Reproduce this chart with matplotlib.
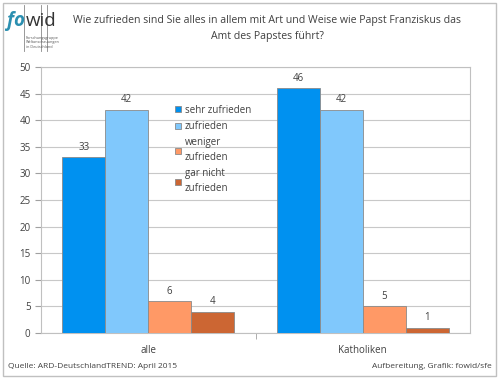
import numpy as np
import matplotlib.pyplot as plt
from matplotlib.patches import Rectangle

plt.rcParams['font.family'] = ['Open Sans', 'DejaVu Sans']

categories = ['alle', 'Katholiken']
series = ['sehr zufrieden', 'zufrieden', 'weniger\nzufrieden', 'gar nicht\nzufrieden']
values = [
    [33, 46],
    [42, 42],
    [6, 5],
    [4, 1],
]
colors = ['#0091f0', '#80c8fc', '#ff9966', '#cc6633']
title = 'Wie zufrieden sind Sie alles in allem mit Art und Weise wie Papst Franziskus das\nAmt des Papstes führt?'
source = 'Quelle: ARD-DeutschlandTREND: April 2015'
credit = 'Aufbereitung, Grafik: fowid/sfe'

txt = '#404040'
fig = plt.figure(figsize=(5, 3.79), dpi=100)
ax = fig.add_axes([0.082, 0.1214, 0.858, 0.7018])

x = np.arange(len(categories))
width = 0.2
grey = '#a0a0a0'
for i, (name, vals) in enumerate(zip(series, values)):
    pos = x + (i - 1.5) * width
    bars = ax.bar(pos, vals, width, color=colors[i], edgecolor='#8a8a8a',
                  linewidth=0.6, label=name, zorder=3)
    for b, v in zip(bars, vals):
        ax.text(b.get_x() + b.get_width() / 2, v + 0.8, str(v), ha='center',
                va='bottom', fontsize=7, color=txt)

ax.set_xlim(-0.5, 1.5)
ax.set_ylim(0, 50)
ax.set_yticks(range(0, 51, 5))
ax.set_xticks(x)
ax.set_xticklabels(categories)
ax.set_xticks([0.5], minor=True)
ax.tick_params(axis='x', which='major', length=0, pad=9, labelsize=7, labelcolor=txt)
ax.tick_params(axis='x', which='minor', length=4, color=grey)
ax.tick_params(axis='y', length=4, color=grey, labelsize=7, labelcolor=txt)
ax.grid(axis='y', color='#c8c8c8', linewidth=0.8, zorder=0)
for s in ax.spines.values():
    s.set_color('#c0c0c0')
    s.set_linewidth(0.8)

leg = ax.legend(loc='upper left', bbox_to_anchor=(0.312, 0.858), frameon=False,
                fontsize=7, handlelength=0.6, handleheight=0.6, handletextpad=0.4,
                labelspacing=0.55, borderaxespad=0, borderpad=0, labelcolor=txt)
for t in leg.get_texts():
    t.set_linespacing(1.45)

fig.text(0.534, 0.925, title, ha='center', va='center', fontsize=7.6, color=txt,
         linespacing=1.65)
fig.text(0.016, 0.034, source, ha='left', va='center', fontsize=6, color=txt)
fig.text(0.984, 0.034, credit, ha='right', va='center', fontsize=6, color=txt)

# logo
fig.text(0.014, 0.944, 'fo', ha='left', va='center', fontsize=13.5, fontweight='bold',
         style='italic', color='#2b8fb0')
fig.text(0.051, 0.944, 'wid', ha='left', va='center', fontsize=13.5, color='#333333')
fig.text(0.052, 0.888, 'Forschungsgruppe\nWeltanschauungen\nin Deutschland', ha='left',
         va='center', fontsize=2.7, color='#555555', linespacing=1.15)
for lx in (0.048, 0.082, 0.094):
    fig.add_artist(plt.Line2D([lx, lx], [0.866, 0.987], color='#888888', linewidth=0.6))

fig.add_artist(Rectangle((0.006, 0.008), 0.986, 0.984, fill=False,
                         edgecolor='#c0c0c0', linewidth=1.0, transform=fig.transFigure))

fig.savefig('out.png', dpi=100)
